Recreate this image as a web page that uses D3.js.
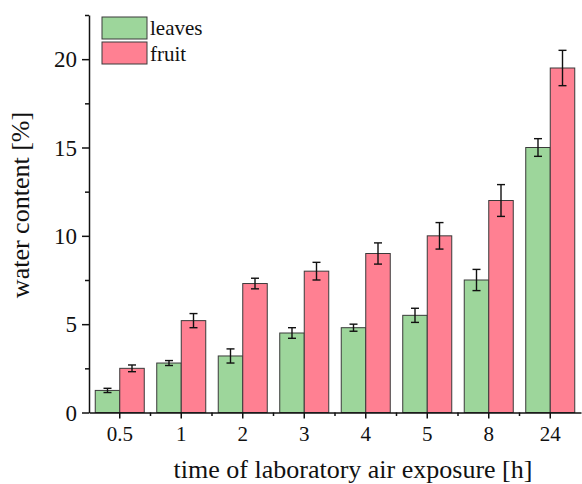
<!DOCTYPE html>
<html>
<head>
<meta charset="utf-8">
<script src="https://cdn.jsdelivr.net/npm/d3@7"></script>
<style>
  html, body { margin: 0; padding: 0; background: #fff; }
  svg { display: block; }
  text { font-family: "Liberation Serif", "Times New Roman", serif; fill: #111; }
</style>
</head>
<body>
<svg id="chart" width="582" height="484"></svg>
<script>
const categories = ["0.5", "1", "2", "3", "4", "5", "8", "24"];
const seriesNames = ["leaves", "fruit"];
const leavesValues = [1.25, 2.8, 3.2, 4.5, 4.8, 5.5, 7.5, 15.0];
const leavesErrors = [0.12, 0.14, 0.4, 0.3, 0.2, 0.4, 0.6, 0.5];
const fruitValues = [2.5, 5.2, 7.3, 8.0, 9.0, 10.0, 12.0, 19.5];
const fruitErrors = [0.19, 0.4, 0.3, 0.5, 0.6, 0.75, 0.9, 1.0];
const yMajorTicks = [0, 5, 10, 15, 20];
const yMinorTicks = [2.5, 7.5, 12.5, 17.5, 22.5];
const colors = ["#9dd69b", "#ff8092"];

const svg = d3.select("#chart");
const mLeft = 89, mRight = 581, mTop = 15, mBottom = 412.5;

const x = d3.scaleBand().domain(categories).range([mLeft, mRight]).padding(0);
const xs = d3.scaleBand().domain(seriesNames).range([0, x.bandwidth()]).paddingInner(0).paddingOuter(0.255);
const y = d3.scaleLinear().domain([0, 22.5]).range([mBottom, mTop]);

const rows = categories.map((c, i) => ({
  cat: c,
  items: [
    { s: "leaves", v: leavesValues[i], e: leavesErrors[i] },
    { s: "fruit", v: fruitValues[i], e: fruitErrors[i] }
  ]
}));

const g = svg.append("g");
const groups = g.selectAll("g.cat").data(rows).join("g")
  .attr("transform", d => `translate(${x(d.cat)},0)`);

groups.selectAll("rect").data(d => d.items).join("rect")
  .attr("x", d => xs(d.s))
  .attr("width", xs.bandwidth())
  .attr("y", d => y(d.v))
  .attr("height", d => y(0) - y(d.v))
  .attr("fill", (d, i) => colors[i])
  .attr("stroke", "#3a3a3a")
  .attr("stroke-width", 1);

// error bars
const capW = 4;
const eb = groups.selectAll("g.err").data(d => d.items).join("g").attr("class", "err");
eb.append("line")
  .attr("x1", d => xs(d.s) + xs.bandwidth() / 2)
  .attr("x2", d => xs(d.s) + xs.bandwidth() / 2)
  .attr("y1", d => y(d.v + d.e))
  .attr("y2", d => y(d.v - d.e))
  .attr("stroke", "#111").attr("stroke-width", 1.4);
eb.append("line")
  .attr("x1", d => xs(d.s) + xs.bandwidth() / 2 - capW)
  .attr("x2", d => xs(d.s) + xs.bandwidth() / 2 + capW)
  .attr("y1", d => y(d.v + d.e))
  .attr("y2", d => y(d.v + d.e))
  .attr("stroke", "#111").attr("stroke-width", 1.4);
eb.append("line")
  .attr("x1", d => xs(d.s) + xs.bandwidth() / 2 - capW)
  .attr("x2", d => xs(d.s) + xs.bandwidth() / 2 + capW)
  .attr("y1", d => y(d.v - d.e))
  .attr("y2", d => y(d.v - d.e))
  .attr("stroke", "#111").attr("stroke-width", 1.4);

// Y axis
const yAxis = svg.append("g").attr("transform", `translate(${mLeft},0)`)
  .call(d3.axisLeft(y).tickValues(yMajorTicks).tickSize(7).tickPadding(5).tickSizeOuter(0));
yAxis.select(".domain").attr("stroke", "#111").attr("stroke-width", 1.5);
yAxis.selectAll(".tick line").attr("stroke", "#111").attr("stroke-width", 1.5);
yAxis.selectAll(".tick text").style("font-size", "23px").style("font-family", "'Liberation Serif', serif").attr("fill", "#111").attr("dy", "0.34em");
const yMinor = svg.append("g").attr("transform", `translate(${mLeft},0)`)
  .call(d3.axisLeft(y).tickValues(yMinorTicks).tickSize(4).tickFormat("").tickSizeOuter(0));
yMinor.select(".domain").remove();
yMinor.selectAll(".tick line").attr("stroke", "#111").attr("stroke-width", 1.5);

// X axis
const xAxis = svg.append("g").attr("transform", `translate(0,${mBottom})`)
  .call(d3.axisBottom(x).tickSize(6).tickPadding(8).tickSizeOuter(0));
xAxis.select(".domain").attr("stroke", "#111").attr("stroke-width", 1.5);
xAxis.selectAll(".tick line").attr("stroke", "#111").attr("stroke-width", 1.5);
xAxis.selectAll(".tick text").style("font-size", "21px").style("font-family", "'Liberation Serif', serif").attr("fill", "#111");
// minor x ticks at band boundaries
const bounds = categories.slice(1).map(c => x(c));
svg.append("g").selectAll("line").data(bounds).join("line")
  .attr("x1", d => d).attr("x2", d => d)
  .attr("y1", mBottom).attr("y2", mBottom + 3.5)
  .attr("stroke", "#111").attr("stroke-width", 1.5);

// axis titles
svg.append("text")
  .attr("x", 353).attr("y", 478)
  .attr("text-anchor", "middle")
  .style("font-size", "26px")
  .text("time of laboratory air exposure [h]");
svg.append("text")
  .attr("transform", "translate(29,205) rotate(-90)")
  .attr("text-anchor", "middle")
  .style("font-size", "26px")
  .text("water content [%]");

// legend
const legend = svg.append("g");
seriesNames.forEach((s, i) => {
  legend.append("rect")
    .attr("x", 102).attr("y", 17 + i * 25)
    .attr("width", 45).attr("height", 22)
    .attr("fill", colors[i]).attr("stroke", "#3a3a3a").attr("stroke-width", 1);
  legend.append("text")
    .attr("x", 150).attr("y", 35 + i * 26)
    .style("font-size", "21px")
    .text(s);
});
</script>
</body>
</html>
